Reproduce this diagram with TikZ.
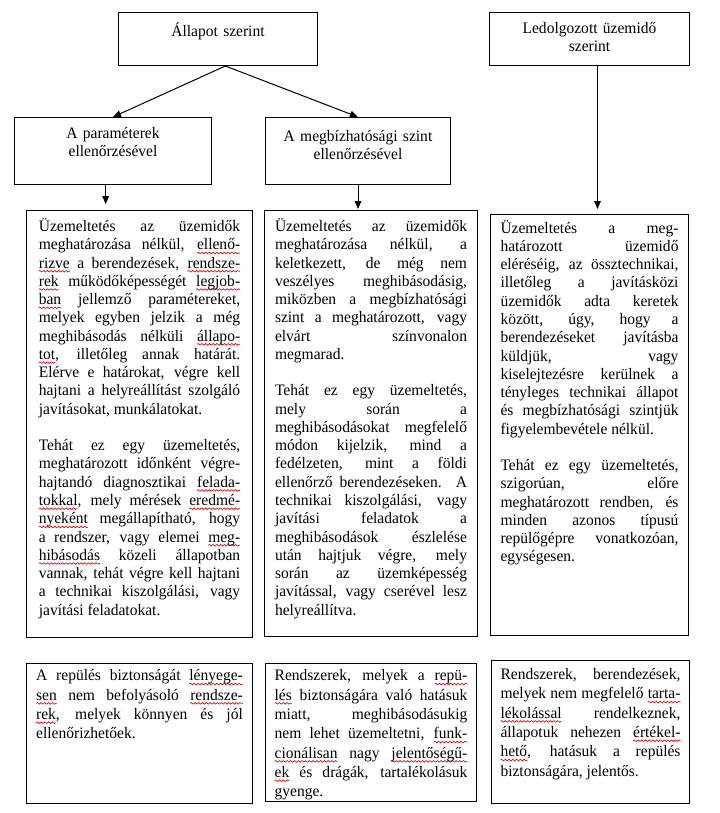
\documentclass[tikz,border=0pt]{standalone}
\usepackage{fontspec}
\setmainfont{Liberation Serif}[FakeStretch=0.97]
\usetikzlibrary{arrows.meta,positioning,decorations.pathmorphing}
\definecolor{spellred}{RGB}{235,0,0}
\tolerance=10000
\hbadness=10000
\hfuzz=3pt
% red wavy underline of the spell checker
\newsavebox{\spellbox}
\newlength{\spellwd}
\newcommand{\spell}[1]{\sbox{\spellbox}{#1}\setlength{\spellwd}{\wd\spellbox}%
  \rlap{\tikz[overlay,baseline=0pt]\draw[spellred, line width=0.5pt, decorate,
    decoration={snake, amplitude=0.6pt, segment length=2.8pt}] (0pt,-2.4pt) -- (\spellwd,-2.4pt);}%
  \usebox{\spellbox}}
\tikzset{
  cellbox/.style={draw, line width=0.75pt, anchor=north west, inner ysep=4pt,
    font=\fontsize{12pt}{13.7pt}\selectfont},
  headbox/.style={cellbox, align=center, inner xsep=4pt},
  textbox/.style={cellbox, align=justify},
  footbox/.style={textbox, font=\fontsize{12pt}{14.5pt}\selectfont},
  arrowline/.style={line width=0.75pt, -{Triangle[length=6pt,width=5pt]}}
}

\begin{document}
\begin{tikzpicture}[x=0.75pt,y=-0.75pt]
\useasboundingbox (0,0) rectangle (719,813);

% -------- Top row --------
\node[headbox, text width=141.25pt, text height=14pt, text depth=17.75pt]
  (allapot) at (118,12) {Állapot szerint};
\node[headbox, text width=142pt, text height=11.75pt, text depth=20pt]
  (ledolg) at (489,12) {Ledolgozott üzemidő\\szerint};

% -------- Second row --------
\node[headbox, text width=139.75pt, text height=11.75pt, text depth=30.5pt]
  (param) at (14,117) {A paraméterek\\ellenőrzésével};
\node[headbox, text width=130.75pt, text height=13.75pt, text depth=28.5pt]
  (megb) at (265,117) {A megbízhatósági szint\\ellenőrzésével};

% -------- Body boxes --------
\node[textbox, text width=151pt, inner xsep=9.25pt, text height=11.75pt, text depth=300.5pt]
  (bodyA) at (26,210) {Üzemeltetés az üzemidők\linebreak
meghatározása nélkül, \spell{ellenő-}\linebreak
\spell{rizve} a berendezések, \spell{rendsze-}\linebreak
\spell{rek} működőképességét \spell{legjob-}\linebreak
\spell{ban} jellemző paramétereket,\linebreak
melyek egyben jelzik a még\linebreak
meghibásodás nélküli \spell{állapo-}\linebreak
\spell{tot}, illetőleg annak határát.\linebreak
Elérve e határokat, végre kell\linebreak
hajtani a helyreállítást szolgáló\linebreak
javításokat, munkálatokat.\par\vspace{\baselineskip}
Tehát ez egy üzemeltetés,\linebreak
meghatározott időnként végre-\linebreak
hajtandó diagnosztikai \spell{felada-}\linebreak
\spell{tokkal}, mely mérések \spell{eredmé-}\linebreak
\spell{nyeként} megállapítható, hogy\linebreak
a rendszer, vagy elemei \spell{meg-}\linebreak
\spell{hibásodás} közeli állapotban\linebreak
vannak, tehát végre kell hajtani\linebreak
a technikai kiszolgálási, vagy\linebreak
javítási feladatokat.};

\node[textbox, text width=144pt, inner xsep=7.875pt, text height=11.75pt, text depth=299.75pt]
  (bodyB) at (264,210) {Üzemeltetés az üzemidők\linebreak
meghatározása nélkül, a\linebreak
keletkezett, de még nem\linebreak
veszélyes meghibásodásig,\linebreak
miközben a megbízhatósági\linebreak
szint a meghatározott, vagy\linebreak
elvárt színvonalon\linebreak
megmarad.\par\vspace{\baselineskip}
Tehát ez egy üzemeltetés,\linebreak
mely során a\linebreak
meghibásodásokat megfelelő\linebreak
módon kijelzik, mind a\linebreak
fedélzeten, mint a földi\linebreak
ellenőrző berendezéseken. A\linebreak
technikai kiszolgálási, vagy\linebreak
javítási feladatok a\linebreak
meghibásodások észlelése\linebreak
után hajtjuk végre, mely\linebreak
során az üzemképesség\linebreak
javítással, vagy cserével lesz\linebreak
helyreállítva.};

\node[textbox, text width=133.5pt, inner xsep=7.5pt, text height=10pt, text depth=297.75pt]
  (bodyC) at (490,214) {Üzemeltetés a meg-\linebreak
határozott üzemidő\linebreak
eléréséig, az össztechnikai,\linebreak
illetőleg a javításközi\linebreak
üzemidők adta keretek\linebreak
között, úgy, hogy a\linebreak
berendezéseket javításba\linebreak
küldjük, vagy\linebreak
kiselejtezésre kerülnek a\linebreak
tényleges technikai állapot\linebreak
és megbízhatósági szintjük\linebreak
figyelembevétele nélkül.\par\vspace{\baselineskip}
Tehát ez egy üzemeltetés,\linebreak
szigorúan, előre\linebreak
meghatározott rendben, és\linebreak
minden azonos típusú\linebreak
repülőgépre vonatkozóan,\linebreak
egységesen.};

% -------- Bottom boxes --------
\node[footbox, text width=155pt, inner xsep=7.25pt, text height=9pt, text depth=88pt]
  (footA) at (26,663) {A repülés biztonságát \spell{lényege-}\linebreak
\spell{sen} nem befolyásoló \spell{rendsze-}\linebreak
\spell{rek}, melyek könnyen és jól\linebreak
ellenőrizhetőek.};

\node[footbox, text width=144.5pt, inner xsep=6.875pt, text height=9pt, text depth=86.5pt]
  (footB) at (265,663) {Rendszerek, melyek a \spell{repü-}\linebreak
\spell{lés} biztonságára való hatásuk\linebreak
miatt, meghibásodásukig\linebreak
nem lehet üzemeltetni, \spell{funk-}\linebreak
\spell{cionálisan} nagy \spell{jelentőségű-}\linebreak
\spell{ek} és drágák, tartalékolásuk\linebreak
gyenge.};

\node[footbox, text width=135pt, inner xsep=6.75pt, text height=10.25pt, text depth=89pt]
  (footC) at (491,660) {Rendszerek, berendezések,\linebreak
melyek nem megfelelő \spell{tarta-}\linebreak
\spell{lékolással} rendelkeznek,\linebreak
állapotuk nehezen \spell{értékel-}\linebreak
\spell{hető}, hatásuk a repülés\linebreak
biztonságára, jelentős.};

% -------- Arrows --------
\draw[arrowline] ([xshift=5.5pt]allapot.south) -- (param.north);
\draw[arrowline] ([xshift=5.5pt]allapot.south) -- (megb.north);
\draw[arrowline, shorten >=4.5pt] ([xshift=-5.5pt]param.south) -- ([xshift=-5.5pt]param.south |- bodyA.north);
\draw[arrowline, shorten >=0.75pt] (megb.south) -- (megb.south |- bodyB.north);
\draw[arrowline, shorten >=3.75pt] ([xshift=6pt]ledolg.south) -- ([xshift=6pt]ledolg.south |- bodyC.north);

\end{tikzpicture}
\end{document}
